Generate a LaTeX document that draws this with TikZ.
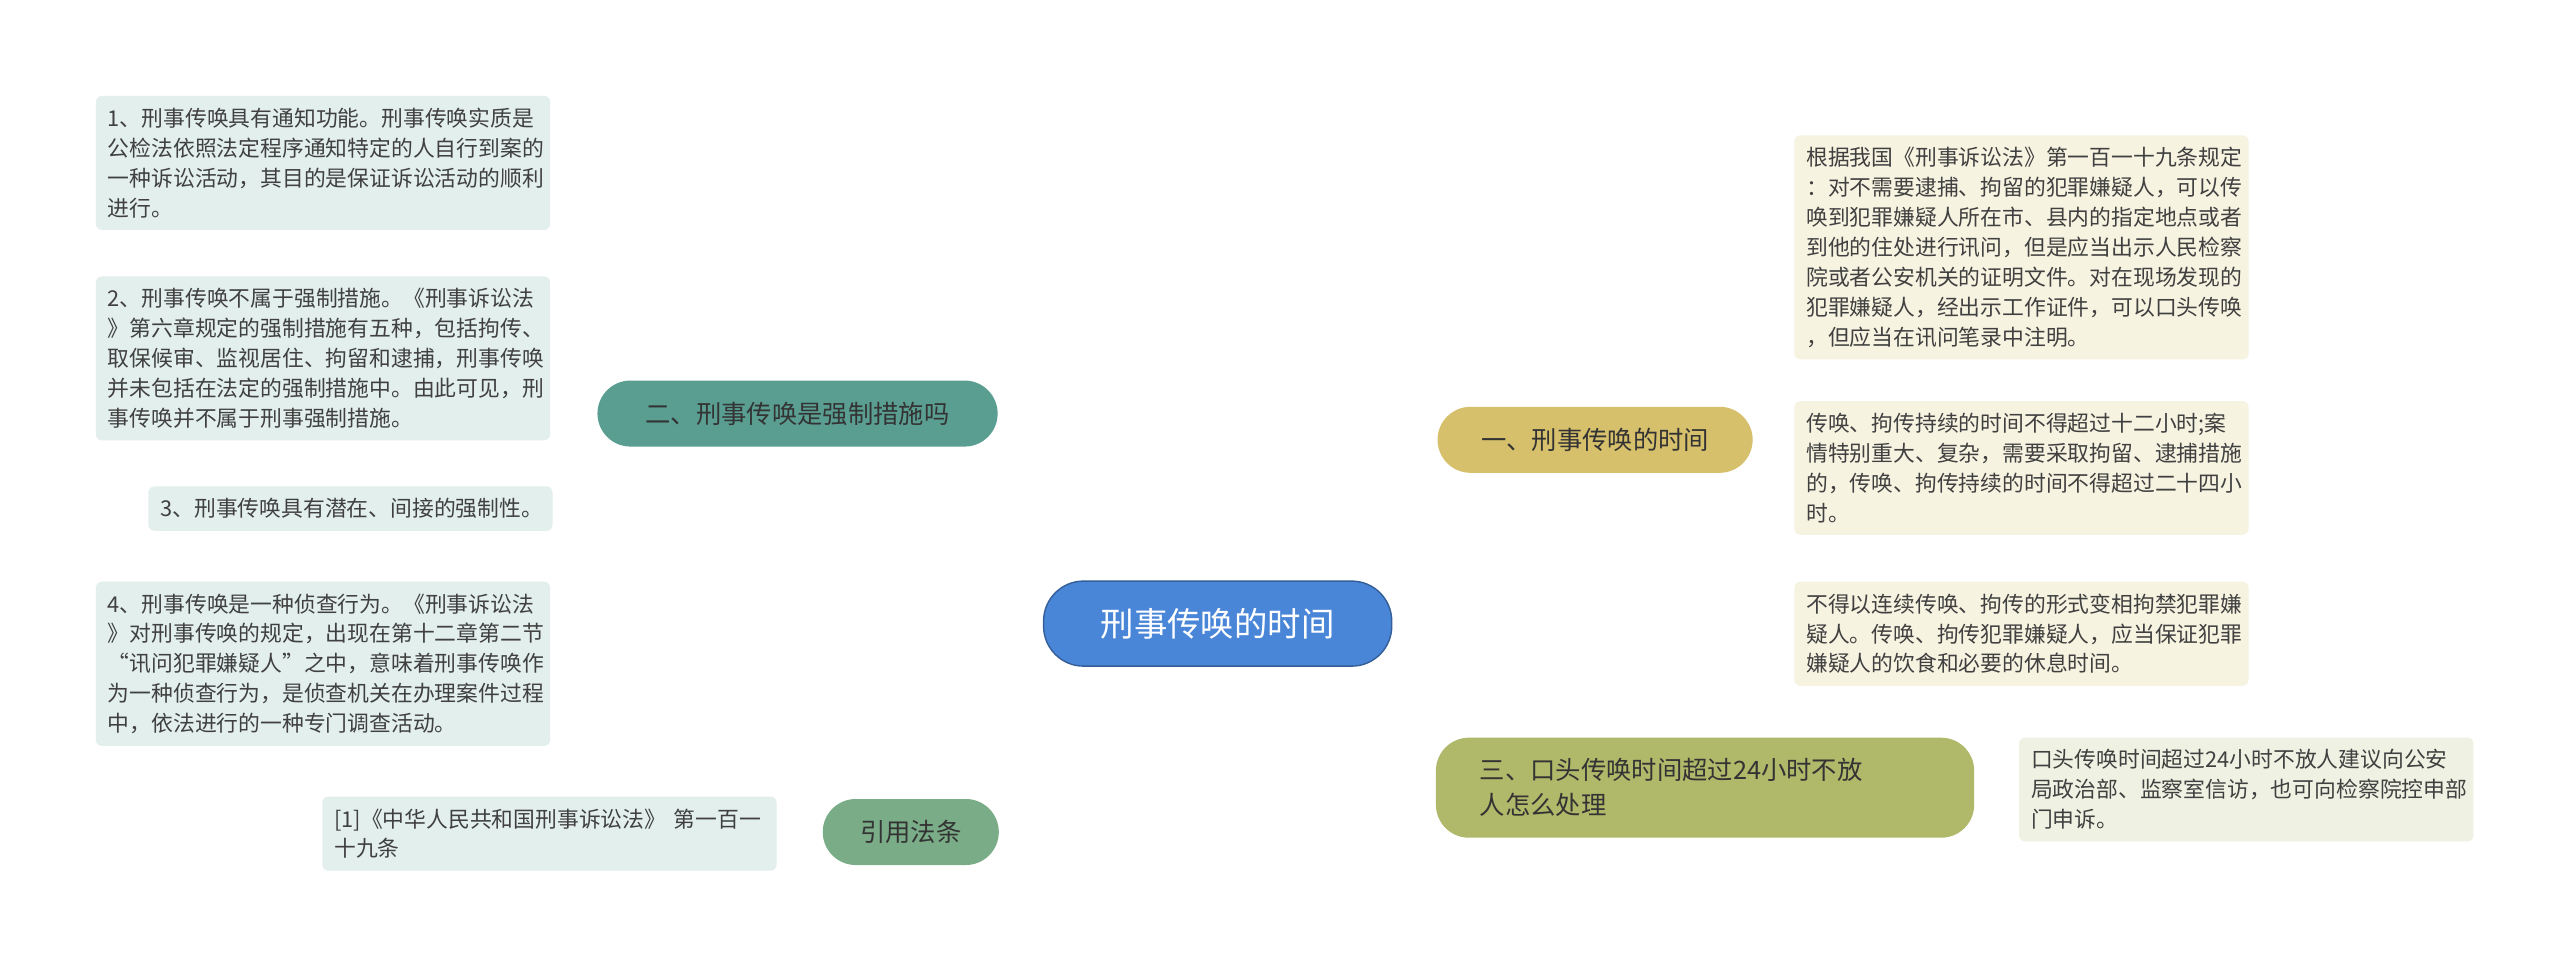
\documentclass[tikz,border=0pt]{standalone}
\usepackage{fontspec}
\setmainfont{Noto Sans CJK SC}
\usetikzlibrary{backgrounds}
\definecolor{rootblue}{HTML}{4A86D8}
\definecolor{yelbr}{HTML}{D6C06C}
\definecolor{olvbr}{HTML}{B0B86A}
\definecolor{tealbr}{HTML}{5A9E92}
\definecolor{grnbr}{HTML}{7AAD87}
\definecolor{yelleaf}{HTML}{F7F3E1}
\definecolor{olvleaf}{HTML}{EFF1E2}
\definecolor{tealleaf}{HTML}{E2EFED}
\tikzset{
  root/.style={draw=rootblue!70!black, fill=rootblue, rounded corners=0.4cm, text=white,
    minimum width=3.48cm, minimum height=0.85cm, font=\fontsize{9.5}{11}\selectfont},
  branch/.style={rounded corners=0.33cm, text=black!80, inner xsep=0.3cm,
    minimum height=0.66cm, font=\fontsize{7.2}{10}\selectfont, align=left},
  leaf/.style={rounded corners=0.06cm, text=black!75, text width=4.3cm, inner sep=0.12cm,
    font=\fontsize{6.2}{8.5}\selectfont, align=left, anchor=north west},
  link/.style={line width=0.7pt}
}
\begin{document}
\begin{tikzpicture}[x=0.01641cm, y=-0.01641cm]
\useasboundingbox[fill=white] (0,0) rectangle (1560,586);
% root and branches
\node[root] (c) at (742,380) {刑事传唤的时间};
\node[branch, fill=yelbr, minimum width=3.15cm] (b1) at (972,268) {一、刑事传唤的时间};
\node[branch, fill=olvbr, minimum width=5.38cm, minimum height=1cm, text width=4.5cm] (b3) at (1039,480) {三、口头传唤时间超过24小时不放\\人怎么处理};
\node[branch, fill=tealbr, minimum width=4cm] (b2) at (486,252) {二、刑事传唤是强制措施吗};
\node[branch, fill=grnbr, minimum width=1.76cm] (b4) at (555,507) {引用法条};
% right leaves
\node[leaf, fill=yelleaf] (r1) at (1093,82) {根据我国《刑事诉讼法》第一百一十九条规定\\：对不需要逮捕、拘留的犯罪嫌疑人，可以传\\唤到犯罪嫌疑人所在市、县内的指定地点或者\\到他的住处进行讯问，但是应当出示人民检察\\院或者公安机关的证明文件。对在现场发现的\\犯罪嫌疑人，经出示工作证件，可以口头传唤\\，但应当在讯问笔录中注明。};
\node[leaf, fill=yelleaf] (r2) at (1093,244) {传唤、拘传持续的时间不得超过十二小时;案\\情特别重大、复杂，需要采取拘留、逮捕措施\\的，传唤、拘传持续的时间不得超过二十四小\\时。};
\node[leaf, fill=yelleaf] (r3) at (1093,354) {不得以连续传唤、拘传的形式变相拘禁犯罪嫌\\疑人。传唤、拘传犯罪嫌疑人，应当保证犯罪\\嫌疑人的饮食和必要的休息时间。};
\node[leaf, fill=olvleaf] (r4) at (1230,449) {口头传唤时间超过24小时不放人建议向公安\\局政治部、监察室信访，也可向检察院控申部\\门申诉。};
% left leaves
\node[leaf, fill=tealleaf] (l1) at (58,58) {1、刑事传唤具有通知功能。刑事传唤实质是\\公检法依照法定程序通知特定的人自行到案的\\一种诉讼活动，其目的是保证诉讼活动的顺利\\进行。};
\node[leaf, fill=tealleaf] (l2) at (58,168) {2、刑事传唤不属于强制措施。《刑事诉讼法\\》第六章规定的强制措施有五种，包括拘传、\\取保候审、监视居住、拘留和逮捕，刑事传唤\\并未包括在法定的强制措施中。由此可见，刑\\事传唤并不属于刑事强制措施。};
\node[leaf, fill=tealleaf, text width=3.8cm] (l3) at (90,296) {3、刑事传唤具有潜在、间接的强制性。};
\node[leaf, fill=tealleaf] (l4) at (58,354) {4、刑事传唤是一种侦查行为。《刑事诉讼法\\》对刑事传唤的规定，出现在第十二章第二节\\“讯问犯罪嫌疑人”之中，意味着刑事传唤作\\为一种侦查行为，是侦查机关在办理案件过程\\中，依法进行的一种专门调查活动。};
\node[leaf, fill=tealleaf] (l5) at (196,485) {[1]《中华人民共和国刑事诉讼法》 第一百一\\十九条};
% connectors
\begin{scope}[on background layer]
\draw[link, yelbr] (c.center) .. controls (742,268) and (800,268) .. (b1.west);
\draw[link, olvbr] (c.center) .. controls (742,480) and (800,480) .. (b3.west);
\draw[link, tealbr] (c.center) .. controls (742,252) and (680,252) .. (b2.east);
\draw[link, grnbr] (c.center) .. controls (742,507) and (680,507) .. (b4.east);
\foreach \n in {r1,r2,r3} \draw[link, yelbr] (b1.east) .. controls +(20,0) and +(-20,0) .. (\n.west);
\draw[link, olvbr] (b3.east) -- (r4.west);
\foreach \n in {l1,l2,l3,l4} \draw[link, tealbr] (b2.west) .. controls +(-20,0) and +(20,0) .. (\n.east);
\draw[link, grnbr] (b4.west) -- (l5.east);
\end{scope}
\end{tikzpicture}
\end{document}
